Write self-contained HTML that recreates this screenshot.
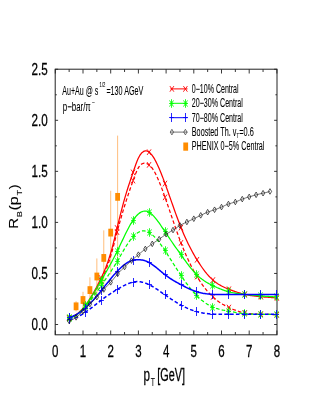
<!DOCTYPE html><html><head><meta charset="utf-8"><style>html,body{margin:0;padding:0;background:#fff}svg{will-change:transform}</style></head><body><svg width="332" height="415" viewBox="0 0 332 415" style="display:block;font-family:'Liberation Sans',sans-serif">
<rect width="332" height="415" fill="#fff"/>
<rect x="55.2" y="69.2" width="221.8" height="265.6" fill="none" stroke="#222" stroke-width="1"/>
<path d="M55.30 334.8v-4.3M55.30 69.2v4.3M69.15 334.8v-2.8M69.15 69.2v2.8M83.00 334.8v-4.3M83.00 69.2v4.3M96.85 334.8v-2.8M96.85 69.2v2.8M110.70 334.8v-4.3M110.70 69.2v4.3M124.55 334.8v-2.8M124.55 69.2v2.8M138.40 334.8v-4.3M138.40 69.2v4.3M152.25 334.8v-2.8M152.25 69.2v2.8M166.10 334.8v-4.3M166.10 69.2v4.3M179.95 334.8v-2.8M179.95 69.2v2.8M193.80 334.8v-4.3M193.80 69.2v4.3M207.65 334.8v-2.8M207.65 69.2v2.8M221.50 334.8v-4.3M221.50 69.2v4.3M235.35 334.8v-2.8M235.35 69.2v2.8M249.20 334.8v-4.3M249.20 69.2v4.3M263.05 334.8v-2.8M263.05 69.2v2.8M276.90 334.8v-4.3M276.90 69.2v4.3M55.2 324.50h2.9M277.0 324.50h-2.9M55.2 298.98h1.6M277.0 298.98h-1.6M55.2 273.45h2.9M277.0 273.45h-2.9M55.2 247.93h1.6M277.0 247.93h-1.6M55.2 222.40h2.9M277.0 222.40h-2.9M55.2 196.88h1.6M277.0 196.88h-1.6M55.2 171.35h2.9M277.0 171.35h-2.9M55.2 145.83h1.6M277.0 145.83h-1.6M55.2 120.30h2.9M277.0 120.30h-2.9M55.2 94.78h1.6M277.0 94.78h-1.6M55.2 69.25h2.9M277.0 69.25h-2.9" stroke="#222" stroke-width="0.9" fill="none"/>
<line x1="76.07" y1="301.22" x2="76.07" y2="311.43" stroke="#ffad5c" stroke-width="0.8"/>
<line x1="83.00" y1="291.83" x2="83.00" y2="308.16" stroke="#ffad5c" stroke-width="0.8"/>
<line x1="89.92" y1="277.33" x2="89.92" y2="302.85" stroke="#ffad5c" stroke-width="0.8"/>
<line x1="96.85" y1="258.44" x2="96.85" y2="294.58" stroke="#ffad5c" stroke-width="0.8"/>
<line x1="103.78" y1="230.36" x2="103.78" y2="285.50" stroke="#ffad5c" stroke-width="0.8"/>
<line x1="110.70" y1="190.75" x2="110.70" y2="274.47" stroke="#ffad5c" stroke-width="0.8"/>
<line x1="117.62" y1="135.62" x2="117.62" y2="258.13" stroke="#ffad5c" stroke-width="0.8"/>
<rect x="73.67" y="302.43" width="4.8" height="7.8" fill="#ff8c00"/>
<rect x="80.60" y="296.10" width="4.8" height="7.8" fill="#ff8c00"/>
<rect x="87.52" y="286.19" width="4.8" height="7.8" fill="#ff8c00"/>
<rect x="94.45" y="272.61" width="4.8" height="7.8" fill="#ff8c00"/>
<rect x="101.38" y="254.03" width="4.8" height="7.8" fill="#ff8c00"/>
<rect x="108.30" y="228.71" width="4.8" height="7.8" fill="#ff8c00"/>
<rect x="115.22" y="192.97" width="4.8" height="7.8" fill="#ff8c00"/>
<path d="M69.15 317.66L70.19 317.45L71.24 317.15L72.28 316.76L73.33 316.29L74.37 315.74L75.41 315.11L76.46 314.40L77.50 313.61L78.55 312.75L79.59 311.81L80.63 310.79L81.68 309.70L82.72 308.55L83.77 307.32L84.81 306.03L85.85 304.66L86.90 303.24L87.94 301.75L88.99 300.19L90.03 298.58L91.07 296.91L92.12 295.18L93.16 293.39L94.21 291.54L95.25 289.65L96.29 287.70L97.34 285.69L98.38 283.64L99.43 281.54L100.47 279.40L101.51 277.20L102.56 274.96L103.60 272.64L104.64 270.21L105.69 267.67L106.73 264.98L107.78 262.12L108.82 259.07L109.86 255.81L110.91 252.31L111.95 248.57L113.00 244.62L114.04 240.52L115.08 236.31L116.13 232.02L117.17 227.71L118.22 223.41L119.26 219.15L120.30 214.95L121.35 210.83L122.39 206.82L123.44 202.92L124.48 199.16L125.52 195.56L126.57 192.11L127.61 188.77L128.66 185.54L129.70 182.38L130.74 179.26L131.79 176.18L132.83 173.11L133.88 170.02L134.92 166.97L135.96 164.04L137.01 161.30L138.05 158.83L139.10 156.70L140.14 154.93L141.18 153.51L142.23 152.42L143.27 151.63L144.32 151.14L145.36 150.93L146.40 150.97L147.45 151.27L148.49 151.80L149.54 152.56L150.58 153.54L151.62 154.73L152.67 156.11L153.71 157.69L154.76 159.44L155.80 161.36L156.84 163.44L157.89 165.65L158.93 167.99L159.98 170.45L161.02 173.00L162.06 175.65L163.11 178.38L164.15 181.17L165.20 184.01L166.24 186.89L167.28 189.80L168.33 192.74L169.37 195.69L170.42 198.65L171.46 201.61L172.50 204.57L173.55 207.52L174.59 210.44L175.63 213.34L176.68 216.20L177.72 219.02L178.77 221.79L179.81 224.49L180.85 227.14L181.90 229.71L182.94 232.21L183.99 234.63L185.03 236.99L186.07 239.28L187.12 241.51L188.16 243.68L189.21 245.78L190.25 247.83L191.29 249.82L192.34 251.76L193.38 253.64L194.43 255.47L195.47 257.26L196.51 259.00L197.56 260.69L198.60 262.34L199.65 263.95L200.69 265.51L201.73 267.02L202.78 268.49L203.82 269.91L204.87 271.27L205.91 272.59L206.95 273.86L208.00 275.07L209.04 276.23L210.09 277.33L211.13 278.38L212.17 279.37L213.22 280.30L214.26 281.18L215.31 282.00L216.35 282.77L217.39 283.50L218.44 284.18L219.48 284.81L220.53 285.41L221.57 285.98L222.61 286.51L223.66 287.02L224.70 287.50L225.75 287.96L226.79 288.40L227.83 288.83L228.88 289.25L229.92 289.65L230.97 290.05L232.01 290.44L233.05 290.82L234.10 291.20L235.14 291.56L236.19 291.91L237.23 292.25L238.27 292.58L239.32 292.89L240.36 293.20L241.41 293.49L242.45 293.77L243.49 294.04L244.54 294.29L245.58 294.53L246.62 294.75L247.67 294.96L248.71 295.16L249.76 295.34L250.80 295.52L251.84 295.68L252.89 295.83L253.93 295.97L254.98 296.11L256.02 296.23L257.06 296.35L258.11 296.46L259.15 296.57L260.20 296.66L261.24 296.76L262.28 296.85L263.33 296.93L264.37 297.01L265.42 297.09L266.46 297.17L267.50 297.24L268.55 297.31L269.59 297.39L270.64 297.46L271.68 297.54L272.72 297.62L273.77 297.69L274.81 297.78L275.86 297.86L276.90 297.95" stroke="#ff0000" stroke-width="1.25" fill="none" stroke-linejoin="round"/>
<path d="M67.15 314.86L71.15 320.46M67.15 320.46L71.15 314.86" stroke="#ff0000" stroke-width="0.9" fill="none"/>
<path d="M83.13 302.81L87.13 308.41M83.13 308.41L87.13 302.81" stroke="#ff0000" stroke-width="0.9" fill="none"/>
<path d="M99.11 275.25L103.11 280.85M99.11 280.85L103.11 275.25" stroke="#ff0000" stroke-width="0.9" fill="none"/>
<path d="M115.09 225.24L119.09 230.84M115.09 230.84L119.09 225.24" stroke="#ff0000" stroke-width="0.9" fill="none"/>
<path d="M131.07 169.60L135.07 175.20M131.07 175.20L135.07 169.60" stroke="#ff0000" stroke-width="0.9" fill="none"/>
<path d="M147.05 149.38L151.05 154.98M147.05 154.98L151.05 149.38" stroke="#ff0000" stroke-width="0.9" fill="none"/>
<path d="M163.03 180.77L167.03 186.37M163.03 186.37L167.03 180.77" stroke="#ff0000" stroke-width="0.9" fill="none"/>
<path d="M179.02 224.74L183.02 230.34M179.02 230.34L183.02 224.74" stroke="#ff0000" stroke-width="0.9" fill="none"/>
<path d="M195.00 256.99L199.00 262.59M195.00 262.59L199.00 256.99" stroke="#ff0000" stroke-width="0.9" fill="none"/>
<path d="M210.98 277.29L214.98 282.89M210.98 282.89L214.98 277.29" stroke="#ff0000" stroke-width="0.9" fill="none"/>
<path d="M226.96 286.48L230.96 292.08M226.96 292.08L230.96 286.48" stroke="#ff0000" stroke-width="0.9" fill="none"/>
<path d="M242.94 291.58L246.94 297.18M242.94 297.18L246.94 291.58" stroke="#ff0000" stroke-width="0.9" fill="none"/>
<path d="M258.92 293.93L262.92 299.53M258.92 299.53L262.92 293.93" stroke="#ff0000" stroke-width="0.9" fill="none"/>
<path d="M274.90 295.15L278.90 300.75M274.90 300.75L278.90 295.15" stroke="#ff0000" stroke-width="0.9" fill="none"/>
<path d="M69.15 318.17L70.19 317.90L71.24 317.56L72.28 317.15L73.33 316.67L74.37 316.13L75.41 315.51L76.46 314.83L77.50 314.08L78.55 313.26L79.59 312.38L80.63 311.44L81.68 310.43L82.72 309.35L83.77 308.22L84.81 307.02L85.85 305.75L86.90 304.43L87.94 303.05L88.99 301.60L90.03 300.10L91.07 298.54L92.12 296.91L93.16 295.23L94.21 293.50L95.25 291.70L96.29 289.85L97.34 287.95L98.38 285.99L99.43 283.97L100.47 281.91L101.51 279.78L102.56 277.60L103.60 275.33L104.64 272.96L105.69 270.47L106.73 267.83L107.78 265.02L108.82 262.03L109.86 258.82L110.91 255.39L111.95 251.72L113.00 247.87L114.04 243.90L115.08 239.87L116.13 235.82L117.17 231.82L118.22 227.91L119.26 224.09L120.30 220.37L121.35 216.73L122.39 213.17L123.44 209.69L124.48 206.29L125.52 202.95L126.57 199.68L127.61 196.47L128.66 193.33L129.70 190.23L130.74 187.19L131.79 184.19L132.83 181.24L133.88 178.33L134.92 175.52L135.96 172.88L137.01 170.48L138.05 168.39L139.10 166.69L140.14 165.37L141.18 164.40L142.23 163.74L143.27 163.35L144.32 163.19L145.36 163.23L146.40 163.45L147.45 163.87L148.49 164.48L149.54 165.28L150.58 166.28L151.62 167.47L152.67 168.86L153.71 170.45L154.76 172.24L155.80 174.22L156.84 176.36L157.89 178.66L158.93 181.10L159.98 183.66L161.02 186.33L162.06 189.10L163.11 191.94L164.15 194.85L165.20 197.81L166.24 200.80L167.28 203.82L168.33 206.86L169.37 209.91L170.42 212.98L171.46 216.04L172.50 219.09L173.55 222.13L174.59 225.15L175.63 228.14L176.68 231.10L177.72 234.01L178.77 236.88L179.81 239.69L180.85 242.44L181.90 245.12L182.94 247.72L183.99 250.26L185.03 252.74L186.07 255.14L187.12 257.48L188.16 259.76L189.21 261.97L190.25 264.12L191.29 266.20L192.34 268.22L193.38 270.19L194.43 272.09L195.47 273.94L196.51 275.72L197.56 277.46L198.60 279.13L199.65 280.75L200.69 282.32L201.73 283.83L202.78 285.29L203.82 286.70L204.87 288.06L205.91 289.36L206.95 290.62L208.00 291.83L209.04 292.99L210.09 294.10L211.13 295.17L212.17 296.19L213.22 297.16L214.26 298.09L215.31 298.98L216.35 299.83L217.39 300.64L218.44 301.41L219.48 302.15L220.53 302.86L221.57 303.53L222.61 304.18L223.66 304.79L224.70 305.38L225.75 305.95L226.79 306.49L227.83 307.01L228.88 307.52L229.92 308.00L230.97 308.47L232.01 308.92L233.05 309.36L234.10 309.77L235.14 310.17L236.19 310.55L237.23 310.91L238.27 311.25L239.32 311.57L240.36 311.88L241.41 312.16L242.45 312.42L243.49 312.66L244.54 312.88L245.58 313.08L246.62 313.26L247.67 313.43L248.71 313.57L249.76 313.69L250.80 313.80L251.84 313.90L252.89 313.98L253.93 314.05L254.98 314.11L256.02 314.16L257.06 314.20L258.11 314.23L259.15 314.26L260.20 314.28L261.24 314.29L262.28 314.31L263.33 314.32L264.37 314.33L265.42 314.34L266.46 314.35L267.50 314.36L268.55 314.38L269.59 314.41L270.64 314.44L271.68 314.47L272.72 314.52L273.77 314.57L274.81 314.63L275.86 314.71L276.90 314.80" stroke="#ff0000" stroke-width="1.25" fill="none" stroke-dasharray="3.6 2.2" stroke-linejoin="round"/>
<path d="M67.15 315.37L71.15 320.97M67.15 320.97L71.15 315.37" stroke="#ff0000" stroke-width="0.9" fill="none"/>
<path d="M83.13 303.84L87.13 309.44M83.13 309.44L87.13 303.84" stroke="#ff0000" stroke-width="0.9" fill="none"/>
<path d="M99.11 277.81L103.11 283.41M99.11 283.41L103.11 277.81" stroke="#ff0000" stroke-width="0.9" fill="none"/>
<path d="M115.09 229.32L119.09 234.92M115.09 234.92L119.09 229.32" stroke="#ff0000" stroke-width="0.9" fill="none"/>
<path d="M131.07 177.76L135.07 183.36M131.07 183.36L135.07 177.76" stroke="#ff0000" stroke-width="0.9" fill="none"/>
<path d="M147.05 162.09L151.05 167.69M147.05 167.69L151.05 162.09" stroke="#ff0000" stroke-width="0.9" fill="none"/>
<path d="M163.03 194.55L167.03 200.15M163.03 200.15L167.03 194.55" stroke="#ff0000" stroke-width="0.9" fill="none"/>
<path d="M179.02 240.05L183.02 245.65M179.02 245.65L183.02 240.05" stroke="#ff0000" stroke-width="0.9" fill="none"/>
<path d="M195.00 273.73L199.00 279.33M195.00 279.33L199.00 273.73" stroke="#ff0000" stroke-width="0.9" fill="none"/>
<path d="M210.98 294.14L214.98 299.74M210.98 299.74L214.98 294.14" stroke="#ff0000" stroke-width="0.9" fill="none"/>
<path d="M226.96 304.75L230.96 310.35M226.96 310.35L230.96 304.75" stroke="#ff0000" stroke-width="0.9" fill="none"/>
<path d="M242.94 310.16L246.94 315.76M242.94 315.76L246.94 310.16" stroke="#ff0000" stroke-width="0.9" fill="none"/>
<path d="M258.92 311.49L262.92 317.09M258.92 317.09L262.92 311.49" stroke="#ff0000" stroke-width="0.9" fill="none"/>
<path d="M274.90 312.00L278.90 317.60M274.90 317.60L278.90 312.00" stroke="#ff0000" stroke-width="0.9" fill="none"/>
<path d="M69.15 317.66L70.19 317.58L71.24 317.39L72.28 317.09L73.33 316.68L74.37 316.17L75.41 315.57L76.46 314.87L77.50 314.07L78.55 313.20L79.59 312.24L80.63 311.20L81.68 310.09L82.72 308.90L83.77 307.65L84.81 306.34L85.85 304.96L86.90 303.54L87.94 302.06L88.99 300.53L90.03 298.96L91.07 297.35L92.12 295.70L93.16 294.02L94.21 292.32L95.25 290.59L96.29 288.84L97.34 287.07L98.38 285.29L99.43 283.50L100.47 281.71L101.51 279.91L102.56 278.12L103.60 276.32L104.64 274.52L105.69 272.71L106.73 270.89L107.78 269.05L108.82 267.20L109.86 265.32L110.91 263.42L111.95 261.49L113.00 259.54L114.04 257.55L115.08 255.52L116.13 253.45L117.17 251.35L118.22 249.20L119.26 247.02L120.30 244.81L121.35 242.59L122.39 240.38L123.44 238.17L124.48 235.99L125.52 233.83L126.57 231.72L127.61 229.67L128.66 227.67L129.70 225.76L130.74 223.93L131.79 222.20L132.83 220.58L133.88 219.07L134.92 217.68L135.96 216.41L137.01 215.27L138.05 214.26L139.10 213.38L140.14 212.63L141.18 212.03L142.23 211.56L143.27 211.25L144.32 211.08L145.36 211.06L146.40 211.20L147.45 211.50L148.49 211.95L149.54 212.54L150.58 213.27L151.62 214.12L152.67 215.08L153.71 216.15L154.76 217.32L155.80 218.56L156.84 219.89L157.89 221.28L158.93 222.72L159.98 224.21L161.02 225.74L162.06 227.29L163.11 228.86L164.15 230.44L165.20 232.02L166.24 233.58L167.28 235.13L168.33 236.68L169.37 238.21L170.42 239.74L171.46 241.26L172.50 242.77L173.55 244.28L174.59 245.77L175.63 247.27L176.68 248.75L177.72 250.23L178.77 251.71L179.81 253.19L180.85 254.66L181.90 256.13L182.94 257.59L183.99 259.05L185.03 260.49L186.07 261.92L187.12 263.32L188.16 264.71L189.21 266.07L190.25 267.39L191.29 268.69L192.34 269.94L193.38 271.16L194.43 272.33L195.47 273.45L196.51 274.52L197.56 275.53L198.60 276.49L199.65 277.40L200.69 278.25L201.73 279.07L202.78 279.83L203.82 280.56L204.87 281.25L205.91 281.91L206.95 282.54L208.00 283.14L209.04 283.71L210.09 284.26L211.13 284.80L212.17 285.32L213.22 285.82L214.26 286.32L215.31 286.80L216.35 287.27L217.39 287.74L218.44 288.18L219.48 288.62L220.53 289.04L221.57 289.44L222.61 289.83L223.66 290.21L224.70 290.56L225.75 290.90L226.79 291.22L227.83 291.53L228.88 291.81L229.92 292.07L230.97 292.32L232.01 292.54L233.05 292.75L234.10 292.95L235.14 293.13L236.19 293.30L237.23 293.45L238.27 293.60L239.32 293.74L240.36 293.87L241.41 293.99L242.45 294.11L243.49 294.23L244.54 294.34L245.58 294.45L246.62 294.56L247.67 294.67L248.71 294.77L249.76 294.88L250.80 294.98L251.84 295.09L252.89 295.19L253.93 295.29L254.98 295.39L256.02 295.48L257.06 295.58L258.11 295.67L259.15 295.76L260.20 295.85L261.24 295.94L262.28 296.02L263.33 296.11L264.37 296.19L265.42 296.26L266.46 296.34L267.50 296.41L268.55 296.48L269.59 296.55L270.64 296.61L271.68 296.67L272.72 296.73L273.77 296.79L274.81 296.84L275.86 296.89L276.90 296.93" stroke="#00ff00" stroke-width="1.25" fill="none" stroke-linejoin="round"/>
<path d="M67.10 317.50L71.90 317.50M69.50 313.20L69.50 321.80M67.50 314.40L71.50 320.60M67.50 320.60L71.50 314.40" stroke="#00ff00" stroke-width="0.85" fill="none"/>
<path d="M83.10 305.50L87.90 305.50M85.50 301.20L85.50 309.80M83.50 302.40L87.50 308.60M83.50 308.60L87.50 302.40" stroke="#00ff00" stroke-width="0.85" fill="none"/>
<path d="M99.10 280.50L103.90 280.50M101.50 276.20L101.50 284.80M99.50 277.40L103.50 283.60M99.50 283.60L103.50 277.40" stroke="#00ff00" stroke-width="0.85" fill="none"/>
<path d="M115.10 251.50L119.90 251.50M117.50 247.20L117.50 255.80M115.50 248.40L119.50 254.60M115.50 254.60L119.50 248.40" stroke="#00ff00" stroke-width="0.85" fill="none"/>
<path d="M131.10 220.50L135.90 220.50M133.50 216.20L133.50 224.80M131.50 217.40L135.50 223.60M131.50 223.60L135.50 217.40" stroke="#00ff00" stroke-width="0.85" fill="none"/>
<path d="M147.10 212.50L151.90 212.50M149.50 208.20L149.50 216.80M147.50 209.40L151.50 215.60M147.50 215.60L151.50 209.40" stroke="#00ff00" stroke-width="0.85" fill="none"/>
<path d="M163.10 231.50L167.90 231.50M165.50 227.20L165.50 235.80M163.50 228.40L167.50 234.60M163.50 234.60L167.50 228.40" stroke="#00ff00" stroke-width="0.85" fill="none"/>
<path d="M179.10 254.50L183.90 254.50M181.50 250.20L181.50 258.80M179.50 251.40L183.50 257.60M179.50 257.60L183.50 251.40" stroke="#00ff00" stroke-width="0.85" fill="none"/>
<path d="M194.10 274.50L198.90 274.50M196.50 270.20L196.50 278.80M194.50 271.40L198.50 277.60M194.50 277.60L198.50 271.40" stroke="#00ff00" stroke-width="0.85" fill="none"/>
<path d="M210.10 285.50L214.90 285.50M212.50 281.20L212.50 289.80M210.50 282.40L214.50 288.60M210.50 288.60L214.50 282.40" stroke="#00ff00" stroke-width="0.85" fill="none"/>
<path d="M226.10 291.50L230.90 291.50M228.50 287.20L228.50 295.80M226.50 288.40L230.50 294.60M226.50 294.60L230.50 288.40" stroke="#00ff00" stroke-width="0.85" fill="none"/>
<path d="M242.10 294.50L246.90 294.50M244.50 290.20L244.50 298.80M242.50 291.40L246.50 297.60M242.50 297.60L246.50 291.40" stroke="#00ff00" stroke-width="0.85" fill="none"/>
<path d="M258.10 295.50L262.90 295.50M260.50 291.20L260.50 299.80M258.50 292.40L262.50 298.60M258.50 298.60L262.50 292.40" stroke="#00ff00" stroke-width="0.85" fill="none"/>
<path d="M274.10 296.50L278.90 296.50M276.50 292.20L276.50 300.80M274.50 293.40L278.50 299.60M274.50 299.60L278.50 293.40" stroke="#00ff00" stroke-width="0.85" fill="none"/>
<path d="M69.15 318.37L70.19 318.16L71.24 317.86L72.28 317.48L73.33 317.02L74.37 316.48L75.41 315.86L76.46 315.18L77.50 314.43L78.55 313.61L79.59 312.73L80.63 311.79L81.68 310.80L82.72 309.75L83.77 308.65L84.81 307.51L85.85 306.32L86.90 305.09L87.94 303.81L88.99 302.51L90.03 301.17L91.07 299.80L92.12 298.41L93.16 296.99L94.21 295.55L95.25 294.09L96.29 292.62L97.34 291.13L98.38 289.64L99.43 288.14L100.47 286.63L101.51 285.13L102.56 283.63L103.60 282.12L104.64 280.61L105.69 279.10L106.73 277.57L107.78 276.04L108.82 274.49L109.86 272.93L110.91 271.35L111.95 269.75L113.00 268.13L114.04 266.49L115.08 264.81L116.13 263.11L117.17 261.38L118.22 259.62L119.26 257.83L120.30 256.03L121.35 254.23L122.39 252.44L123.44 250.65L124.48 248.90L125.52 247.18L126.57 245.50L127.61 243.88L128.66 242.32L129.70 240.84L130.74 239.43L131.79 238.12L132.83 236.92L133.88 235.81L134.92 234.82L135.96 233.94L137.01 233.16L138.05 232.50L139.10 231.95L140.14 231.51L141.18 231.18L142.23 230.97L143.27 230.88L144.32 230.90L145.36 231.03L146.40 231.29L147.45 231.66L148.49 232.15L149.54 232.75L150.58 233.45L151.62 234.25L152.67 235.14L153.71 236.12L154.76 237.18L155.80 238.31L156.84 239.52L157.89 240.79L158.93 242.12L159.98 243.50L161.02 244.93L162.06 246.40L163.11 247.91L164.15 249.44L165.20 251.01L166.24 252.59L167.28 254.19L168.33 255.80L169.37 257.42L170.42 259.06L171.46 260.70L172.50 262.34L173.55 263.98L174.59 265.62L175.63 267.26L176.68 268.89L177.72 270.51L178.77 272.11L179.81 273.70L180.85 275.27L181.90 276.82L182.94 278.35L183.99 279.85L185.03 281.33L186.07 282.78L187.12 284.20L188.16 285.59L189.21 286.95L190.25 288.27L191.29 289.56L192.34 290.81L193.38 292.03L194.43 293.21L195.47 294.34L196.51 295.43L197.56 296.48L198.60 297.49L199.65 298.45L200.69 299.37L201.73 300.24L202.78 301.07L203.82 301.87L204.87 302.62L205.91 303.33L206.95 304.00L208.00 304.64L209.04 305.23L210.09 305.79L211.13 306.31L212.17 306.80L213.22 307.25L214.26 307.66L215.31 308.04L216.35 308.40L217.39 308.72L218.44 309.02L219.48 309.30L220.53 309.56L221.57 309.80L222.61 310.03L223.66 310.24L224.70 310.45L225.75 310.65L226.79 310.84L227.83 311.03L228.88 311.21L229.92 311.40L230.97 311.60L232.01 311.79L233.05 311.98L234.10 312.17L235.14 312.36L236.19 312.54L237.23 312.72L238.27 312.89L239.32 313.05L240.36 313.21L241.41 313.36L242.45 313.50L243.49 313.62L244.54 313.74L245.58 313.84L246.62 313.93L247.67 314.01L248.71 314.07L249.76 314.12L250.80 314.17L251.84 314.21L252.89 314.23L253.93 314.26L254.98 314.27L256.02 314.28L257.06 314.29L258.11 314.29L259.15 314.29L260.20 314.29L261.24 314.29L262.28 314.29L263.33 314.29L264.37 314.29L265.42 314.30L266.46 314.30L267.50 314.32L268.55 314.34L269.59 314.36L270.64 314.40L271.68 314.44L272.72 314.49L273.77 314.55L274.81 314.62L275.86 314.70L276.90 314.80" stroke="#00ff00" stroke-width="1.25" fill="none" stroke-dasharray="3.6 2.2" stroke-linejoin="round"/>
<path d="M67.10 318.50L71.90 318.50M69.50 314.20L69.50 322.80M67.50 315.40L71.50 321.60M67.50 321.60L71.50 315.40" stroke="#00ff00" stroke-width="0.85" fill="none"/>
<path d="M83.10 307.50L87.90 307.50M85.50 303.20L85.50 311.80M83.50 304.40L87.50 310.60M83.50 310.60L87.50 304.40" stroke="#00ff00" stroke-width="0.85" fill="none"/>
<path d="M99.10 285.50L103.90 285.50M101.50 281.20L101.50 289.80M99.50 282.40L103.50 288.60M99.50 288.60L103.50 282.40" stroke="#00ff00" stroke-width="0.85" fill="none"/>
<path d="M115.10 261.50L119.90 261.50M117.50 257.20L117.50 265.80M115.50 258.40L119.50 264.60M115.50 264.60L119.50 258.40" stroke="#00ff00" stroke-width="0.85" fill="none"/>
<path d="M131.10 236.50L135.90 236.50M133.50 232.20L133.50 240.80M131.50 233.40L135.50 239.60M131.50 239.60L135.50 233.40" stroke="#00ff00" stroke-width="0.85" fill="none"/>
<path d="M147.10 232.50L151.90 232.50M149.50 228.20L149.50 236.80M147.50 229.40L151.50 235.60M147.50 235.60L151.50 229.40" stroke="#00ff00" stroke-width="0.85" fill="none"/>
<path d="M163.10 250.50L167.90 250.50M165.50 246.20L165.50 254.80M163.50 247.40L167.50 253.60M163.50 253.60L167.50 247.40" stroke="#00ff00" stroke-width="0.85" fill="none"/>
<path d="M179.10 275.50L183.90 275.50M181.50 271.20L181.50 279.80M179.50 272.40L183.50 278.60M179.50 278.60L183.50 272.40" stroke="#00ff00" stroke-width="0.85" fill="none"/>
<path d="M194.10 295.50L198.90 295.50M196.50 291.20L196.50 299.80M194.50 292.40L198.50 298.60M194.50 298.60L198.50 292.40" stroke="#00ff00" stroke-width="0.85" fill="none"/>
<path d="M210.10 307.50L214.90 307.50M212.50 303.20L212.50 311.80M210.50 304.40L214.50 310.60M210.50 310.60L214.50 304.40" stroke="#00ff00" stroke-width="0.85" fill="none"/>
<path d="M226.10 311.50L230.90 311.50M228.50 307.20L228.50 315.80M226.50 308.40L230.50 314.60M226.50 314.60L230.50 308.40" stroke="#00ff00" stroke-width="0.85" fill="none"/>
<path d="M242.10 313.50L246.90 313.50M244.50 309.20L244.50 317.80M242.50 310.40L246.50 316.60M242.50 316.60L246.50 310.40" stroke="#00ff00" stroke-width="0.85" fill="none"/>
<path d="M258.10 314.50L262.90 314.50M260.50 310.20L260.50 318.80M258.50 311.40L262.50 317.60M258.50 317.60L262.50 311.40" stroke="#00ff00" stroke-width="0.85" fill="none"/>
<path d="M274.10 314.50L278.90 314.50M276.50 310.20L276.50 318.80M274.50 311.40L278.50 317.60M274.50 317.60L278.50 311.40" stroke="#00ff00" stroke-width="0.85" fill="none"/>
<path d="M69.15 317.35L70.19 317.10L71.24 316.79L72.28 316.43L73.33 316.02L74.37 315.55L75.41 315.04L76.46 314.48L77.50 313.88L78.55 313.22L79.59 312.53L80.63 311.79L81.68 311.01L82.72 310.20L83.77 309.34L84.81 308.45L85.85 307.52L86.90 306.56L87.94 305.56L88.99 304.54L90.03 303.48L91.07 302.40L92.12 301.29L93.16 300.16L94.21 299.00L95.25 297.81L96.29 296.61L97.34 295.38L98.38 294.14L99.43 292.88L100.47 291.60L101.51 290.31L102.56 289.01L103.60 287.70L104.64 286.38L105.69 285.06L106.73 283.74L107.78 282.43L108.82 281.12L109.86 279.82L110.91 278.54L111.95 277.28L113.00 276.03L114.04 274.81L115.08 273.62L116.13 272.46L117.17 271.33L118.22 270.24L119.26 269.19L120.30 268.18L121.35 267.22L122.39 266.30L123.44 265.43L124.48 264.62L125.52 263.85L126.57 263.15L127.61 262.50L128.66 261.92L129.70 261.40L130.74 260.94L131.79 260.56L132.83 260.24L133.88 260.00L134.92 259.83L135.96 259.72L137.01 259.66L138.05 259.66L139.10 259.70L140.14 259.78L141.18 259.91L142.23 260.08L143.27 260.31L144.32 260.58L145.36 260.91L146.40 261.29L147.45 261.73L148.49 262.23L149.54 262.78L150.58 263.40L151.62 264.07L152.67 264.79L153.71 265.54L154.76 266.34L155.80 267.16L156.84 268.00L157.89 268.87L158.93 269.74L159.98 270.62L161.02 271.50L162.06 272.37L163.11 273.23L164.15 274.07L165.20 274.89L166.24 275.68L167.28 276.44L168.33 277.18L169.37 277.89L170.42 278.58L171.46 279.25L172.50 279.90L173.55 280.53L174.59 281.14L175.63 281.75L176.68 282.34L177.72 282.91L178.77 283.48L179.81 284.05L180.85 284.60L181.90 285.15L182.94 285.70L183.99 286.24L185.03 286.77L186.07 287.30L187.12 287.81L188.16 288.31L189.21 288.79L190.25 289.26L191.29 289.72L192.34 290.15L193.38 290.57L194.43 290.96L195.47 291.33L196.51 291.68L197.56 292.00L198.60 292.30L199.65 292.57L200.69 292.82L201.73 293.04L202.78 293.25L203.82 293.43L204.87 293.60L205.91 293.75L206.95 293.88L208.00 294.00L209.04 294.10L210.09 294.19L211.13 294.27L212.17 294.34L213.22 294.39L214.26 294.44L215.31 294.48L216.35 294.52L217.39 294.54L218.44 294.57L219.48 294.58L220.53 294.59L221.57 294.60L222.61 294.60L223.66 294.60L224.70 294.60L225.75 294.60L226.79 294.59L227.83 294.59L228.88 294.58L229.92 294.58L230.97 294.58L232.01 294.58L233.05 294.57L234.10 294.57L235.14 294.57L236.19 294.57L237.23 294.57L238.27 294.58L239.32 294.58L240.36 294.58L241.41 294.58L242.45 294.58L243.49 294.58L244.54 294.58L245.58 294.59L246.62 294.59L247.67 294.59L248.71 294.59L249.76 294.59L250.80 294.59L251.84 294.59L252.89 294.59L253.93 294.59L254.98 294.59L256.02 294.59L257.06 294.59L258.11 294.59L259.15 294.59L260.20 294.59L261.24 294.58L262.28 294.58L263.33 294.58L264.37 294.58L265.42 294.58L266.46 294.58L267.50 294.58L268.55 294.58L269.59 294.58L270.64 294.58L271.68 294.58L272.72 294.58L273.77 294.58L274.81 294.58L275.86 294.58L276.90 294.58" stroke="#0000ff" stroke-width="1.5" fill="none" stroke-linejoin="round"/>
<path d="M67.10 317.50L71.90 317.50M69.50 313.00L69.50 322.00" stroke="#0000ff" stroke-width="0.85" fill="none"/>
<path d="M83.10 308.50L87.90 308.50M85.50 304.00L85.50 313.00" stroke="#0000ff" stroke-width="0.85" fill="none"/>
<path d="M99.10 290.50L103.90 290.50M101.50 286.00L101.50 295.00" stroke="#0000ff" stroke-width="0.85" fill="none"/>
<path d="M115.10 271.50L119.90 271.50M117.50 267.00L117.50 276.00" stroke="#0000ff" stroke-width="0.85" fill="none"/>
<path d="M131.10 260.50L135.90 260.50M133.50 256.00L133.50 265.00" stroke="#0000ff" stroke-width="0.85" fill="none"/>
<path d="M147.10 262.50L151.90 262.50M149.50 258.00L149.50 267.00" stroke="#0000ff" stroke-width="0.85" fill="none"/>
<path d="M163.10 274.50L167.90 274.50M165.50 270.00L165.50 279.00" stroke="#0000ff" stroke-width="0.85" fill="none"/>
<path d="M179.10 284.50L183.90 284.50M181.50 280.00L181.50 289.00" stroke="#0000ff" stroke-width="0.85" fill="none"/>
<path d="M194.10 291.50L198.90 291.50M196.50 287.00L196.50 296.00" stroke="#0000ff" stroke-width="0.85" fill="none"/>
<path d="M210.10 294.50L214.90 294.50M212.50 290.00L212.50 299.00" stroke="#0000ff" stroke-width="0.85" fill="none"/>
<path d="M226.10 294.50L230.90 294.50M228.50 290.00L228.50 299.00" stroke="#0000ff" stroke-width="0.85" fill="none"/>
<path d="M242.10 294.50L246.90 294.50M244.50 290.00L244.50 299.00" stroke="#0000ff" stroke-width="0.85" fill="none"/>
<path d="M258.10 294.50L262.90 294.50M260.50 290.00L260.50 299.00" stroke="#0000ff" stroke-width="0.85" fill="none"/>
<path d="M274.10 294.50L278.90 294.50M276.50 290.00L276.50 299.00" stroke="#0000ff" stroke-width="0.85" fill="none"/>
<path d="M69.15 319.39L70.19 319.26L71.24 319.07L72.28 318.83L73.33 318.53L74.37 318.19L75.41 317.81L76.46 317.38L77.50 316.91L78.55 316.40L79.59 315.86L80.63 315.28L81.68 314.67L82.72 314.03L83.77 313.36L84.81 312.67L85.85 311.96L86.90 311.22L87.94 310.47L88.99 309.70L90.03 308.91L91.07 308.12L92.12 307.31L93.16 306.50L94.21 305.68L95.25 304.86L96.29 304.04L97.34 303.22L98.38 302.40L99.43 301.59L100.47 300.79L101.51 300.00L102.56 299.23L103.60 298.46L104.64 297.70L105.69 296.96L106.73 296.23L107.78 295.50L108.82 294.79L109.86 294.09L110.91 293.40L111.95 292.72L113.00 292.04L114.04 291.38L115.08 290.72L116.13 290.07L117.17 289.43L118.22 288.80L119.26 288.18L120.30 287.58L121.35 286.98L122.39 286.41L123.44 285.85L124.48 285.32L125.52 284.82L126.57 284.34L127.61 283.89L128.66 283.47L129.70 283.09L130.74 282.75L131.79 282.45L132.83 282.18L133.88 281.97L134.92 281.80L135.96 281.68L137.01 281.62L138.05 281.61L139.10 281.66L140.14 281.77L141.18 281.93L142.23 282.15L143.27 282.41L144.32 282.73L145.36 283.09L146.40 283.49L147.45 283.93L148.49 284.41L149.54 284.92L150.58 285.46L151.62 286.03L152.67 286.62L153.71 287.24L154.76 287.89L155.80 288.55L156.84 289.23L157.89 289.92L158.93 290.63L159.98 291.35L161.02 292.07L162.06 292.80L163.11 293.53L164.15 294.26L165.20 294.99L166.24 295.72L167.28 296.44L168.33 297.16L169.37 297.87L170.42 298.58L171.46 299.27L172.50 299.96L173.55 300.63L174.59 301.30L175.63 301.95L176.68 302.59L177.72 303.22L178.77 303.84L179.81 304.44L180.85 305.02L181.90 305.59L182.94 306.14L183.99 306.67L185.03 307.18L186.07 307.68L187.12 308.16L188.16 308.62L189.21 309.06L190.25 309.49L191.29 309.89L192.34 310.27L193.38 310.64L194.43 310.98L195.47 311.30L196.51 311.61L197.56 311.89L198.60 312.15L199.65 312.39L200.69 312.62L201.73 312.82L202.78 313.01L203.82 313.18L204.87 313.33L205.91 313.47L206.95 313.60L208.00 313.71L209.04 313.81L210.09 313.90L211.13 313.97L212.17 314.04L213.22 314.10L214.26 314.15L215.31 314.19L216.35 314.22L217.39 314.25L218.44 314.27L219.48 314.29L220.53 314.30L221.57 314.31L222.61 314.31L223.66 314.31L224.70 314.31L225.75 314.30L226.79 314.30L227.83 314.29L228.88 314.29L229.92 314.29L230.97 314.28L232.01 314.28L233.05 314.28L234.10 314.28L235.14 314.28L236.19 314.28L237.23 314.28L238.27 314.28L239.32 314.28L240.36 314.28L241.41 314.29L242.45 314.29L243.49 314.29L244.54 314.29L245.58 314.29L246.62 314.29L247.67 314.29L248.71 314.29L249.76 314.29L250.80 314.29L251.84 314.29L252.89 314.29L253.93 314.29L254.98 314.29L256.02 314.29L257.06 314.29L258.11 314.29L259.15 314.29L260.20 314.29L261.24 314.29L262.28 314.29L263.33 314.29L264.37 314.29L265.42 314.29L266.46 314.29L267.50 314.29L268.55 314.29L269.59 314.29L270.64 314.29L271.68 314.29L272.72 314.29L273.77 314.29L274.81 314.29L275.86 314.29L276.90 314.29" stroke="#0000ff" stroke-width="1.5" fill="none" stroke-dasharray="3.6 2.2" stroke-linejoin="round"/>
<path d="M67.10 319.50L71.90 319.50M69.50 315.00L69.50 324.00" stroke="#0000ff" stroke-width="0.85" fill="none"/>
<path d="M83.10 312.50L87.90 312.50M85.50 308.00L85.50 317.00" stroke="#0000ff" stroke-width="0.85" fill="none"/>
<path d="M99.10 300.50L103.90 300.50M101.50 296.00L101.50 305.00" stroke="#0000ff" stroke-width="0.85" fill="none"/>
<path d="M115.10 289.50L119.90 289.50M117.50 285.00L117.50 294.00" stroke="#0000ff" stroke-width="0.85" fill="none"/>
<path d="M131.10 282.50L135.90 282.50M133.50 278.00L133.50 287.00" stroke="#0000ff" stroke-width="0.85" fill="none"/>
<path d="M147.10 284.50L151.90 284.50M149.50 280.00L149.50 289.00" stroke="#0000ff" stroke-width="0.85" fill="none"/>
<path d="M163.10 294.50L167.90 294.50M165.50 290.00L165.50 299.00" stroke="#0000ff" stroke-width="0.85" fill="none"/>
<path d="M179.10 305.50L183.90 305.50M181.50 301.00L181.50 310.00" stroke="#0000ff" stroke-width="0.85" fill="none"/>
<path d="M194.10 311.50L198.90 311.50M196.50 307.00L196.50 316.00" stroke="#0000ff" stroke-width="0.85" fill="none"/>
<path d="M210.10 314.50L214.90 314.50M212.50 310.00L212.50 319.00" stroke="#0000ff" stroke-width="0.85" fill="none"/>
<path d="M226.10 314.50L230.90 314.50M228.50 310.00L228.50 319.00" stroke="#0000ff" stroke-width="0.85" fill="none"/>
<path d="M242.10 314.50L246.90 314.50M244.50 310.00L244.50 319.00" stroke="#0000ff" stroke-width="0.85" fill="none"/>
<path d="M258.10 314.50L262.90 314.50M260.50 310.00L260.50 319.00" stroke="#0000ff" stroke-width="0.85" fill="none"/>
<path d="M274.10 314.50L278.90 314.50M276.50 310.00L276.50 319.00" stroke="#0000ff" stroke-width="0.85" fill="none"/>
<path d="M69.15 320.93L71.18 320.23L73.21 319.22L75.24 317.95L77.26 316.44L79.29 314.74L81.32 312.87L83.35 310.88L85.38 308.79L87.41 306.67L89.44 304.58L91.46 302.55L93.49 300.55L95.52 298.52L97.55 296.38L99.58 294.13L101.61 291.84L103.64 289.63L105.66 287.55L107.69 285.52L109.72 283.41L111.75 281.11L113.78 278.63L115.81 276.12L117.83 273.72L119.86 271.54L121.89 269.53L123.92 267.61L125.95 265.70L127.98 263.79L130.01 261.91L132.03 260.09L134.06 258.32L136.09 256.60L138.12 254.90L140.15 253.19L142.18 251.50L144.21 249.84L146.23 248.23L148.26 246.69L150.29 245.21L152.32 243.79L154.35 242.42L156.38 241.06L158.41 239.68L160.43 238.24L162.46 236.77L164.49 235.33L166.52 233.97L168.55 232.74L170.58 231.55L172.61 230.32L174.63 228.99L176.66 227.61L178.69 226.25L180.72 225.01L182.75 223.94L184.78 222.96L186.81 222.02L188.83 221.08L190.86 220.13L192.89 219.16L194.92 218.18L196.95 217.20L198.98 216.21L201.00 215.22L203.03 214.24L205.06 213.30L207.09 212.42L209.12 211.62L211.15 210.90L213.18 210.21L215.20 209.52L217.23 208.80L219.26 208.03L221.29 207.18L223.32 206.25L225.35 205.30L227.38 204.42L229.40 203.70L231.43 203.11L233.46 202.56L235.49 201.93L237.52 201.15L239.55 200.27L241.58 199.40L243.60 198.63L245.63 197.95L247.66 197.33L249.69 196.73L251.72 196.11L253.75 195.50L255.78 194.93L257.80 194.40L259.83 193.92L261.86 193.46L263.89 193.01L265.92 192.54L267.95 192.03L269.97 191.46" stroke="#333" stroke-width="0.7" fill="none"/>
<path d="M67.50 320.93L69.15 318.13L70.80 320.93L69.15 323.73Z" stroke="#111" stroke-width="0.7" fill="none"/>
<path d="M74.42 317.35L76.07 314.55L77.72 317.35L76.07 320.15Z" stroke="#111" stroke-width="0.7" fill="none"/>
<path d="M81.35 311.23L83.00 308.43L84.65 311.23L83.00 314.03Z" stroke="#111" stroke-width="0.7" fill="none"/>
<path d="M88.27 304.08L89.92 301.28L91.58 304.08L89.92 306.88Z" stroke="#111" stroke-width="0.7" fill="none"/>
<path d="M95.20 297.14L96.85 294.34L98.50 297.14L96.85 299.94Z" stroke="#111" stroke-width="0.7" fill="none"/>
<path d="M102.12 289.48L103.78 286.68L105.43 289.48L103.78 292.28Z" stroke="#111" stroke-width="0.7" fill="none"/>
<path d="M109.05 282.33L110.70 279.53L112.35 282.33L110.70 285.13Z" stroke="#111" stroke-width="0.7" fill="none"/>
<path d="M115.97 273.96L117.62 271.16L119.28 273.96L117.62 276.76Z" stroke="#111" stroke-width="0.7" fill="none"/>
<path d="M122.90 267.02L124.55 264.22L126.20 267.02L124.55 269.82Z" stroke="#111" stroke-width="0.7" fill="none"/>
<path d="M129.82 260.59L131.47 257.79L133.12 260.59L131.47 263.39Z" stroke="#111" stroke-width="0.7" fill="none"/>
<path d="M136.75 254.66L138.40 251.86L140.05 254.66L138.40 257.46Z" stroke="#111" stroke-width="0.7" fill="none"/>
<path d="M143.67 248.95L145.32 246.15L146.97 248.95L145.32 251.75Z" stroke="#111" stroke-width="0.7" fill="none"/>
<path d="M150.60 243.84L152.25 241.04L153.90 243.84L152.25 246.64Z" stroke="#111" stroke-width="0.7" fill="none"/>
<path d="M157.53 239.14L159.18 236.34L160.83 239.14L159.18 241.94Z" stroke="#111" stroke-width="0.7" fill="none"/>
<path d="M164.45 234.24L166.10 231.44L167.75 234.24L166.10 237.04Z" stroke="#111" stroke-width="0.7" fill="none"/>
<path d="M171.37 230.06L173.02 227.26L174.67 230.06L173.02 232.86Z" stroke="#111" stroke-width="0.7" fill="none"/>
<path d="M178.30 225.46L179.95 222.66L181.60 225.46L179.95 228.26Z" stroke="#111" stroke-width="0.7" fill="none"/>
<path d="M185.22 221.99L186.88 219.19L188.53 221.99L186.88 224.79Z" stroke="#111" stroke-width="0.7" fill="none"/>
<path d="M192.15 218.72L193.80 215.92L195.45 218.72L193.80 221.52Z" stroke="#111" stroke-width="0.7" fill="none"/>
<path d="M199.07 215.36L200.72 212.56L202.37 215.36L200.72 218.16Z" stroke="#111" stroke-width="0.7" fill="none"/>
<path d="M206.00 212.19L207.65 209.39L209.30 212.19L207.65 214.99Z" stroke="#111" stroke-width="0.7" fill="none"/>
<path d="M212.92 209.74L214.57 206.94L216.22 209.74L214.57 212.54Z" stroke="#111" stroke-width="0.7" fill="none"/>
<path d="M219.85 207.09L221.50 204.29L223.15 207.09L221.50 209.89Z" stroke="#111" stroke-width="0.7" fill="none"/>
<path d="M226.78 204.02L228.43 201.22L230.08 204.02L228.43 206.82Z" stroke="#111" stroke-width="0.7" fill="none"/>
<path d="M233.70 201.98L235.35 199.18L237.00 201.98L235.35 204.78Z" stroke="#111" stroke-width="0.7" fill="none"/>
<path d="M240.62 199.12L242.27 196.32L243.92 199.12L242.27 201.92Z" stroke="#111" stroke-width="0.7" fill="none"/>
<path d="M247.55 196.88L249.20 194.07L250.85 196.88L249.20 199.68Z" stroke="#111" stroke-width="0.7" fill="none"/>
<path d="M254.47 194.83L256.12 192.03L257.77 194.83L256.12 197.63Z" stroke="#111" stroke-width="0.7" fill="none"/>
<path d="M261.40 193.20L263.05 190.40L264.70 193.20L263.05 196.00Z" stroke="#111" stroke-width="0.7" fill="none"/>
<path d="M268.32 191.46L269.97 188.66L271.62 191.46L269.97 194.26Z" stroke="#111" stroke-width="0.7" fill="none"/>
<text x="55.30" y="356.6" font-size="16.8" textLength="6.4" lengthAdjust="spacingAndGlyphs" text-anchor="middle" fill="#000" stroke="#000" stroke-width="0.28">0</text>
<text x="83.00" y="356.6" font-size="16.8" textLength="6.4" lengthAdjust="spacingAndGlyphs" text-anchor="middle" fill="#000" stroke="#000" stroke-width="0.28">1</text>
<text x="110.70" y="356.6" font-size="16.8" textLength="6.4" lengthAdjust="spacingAndGlyphs" text-anchor="middle" fill="#000" stroke="#000" stroke-width="0.28">2</text>
<text x="138.40" y="356.6" font-size="16.8" textLength="6.4" lengthAdjust="spacingAndGlyphs" text-anchor="middle" fill="#000" stroke="#000" stroke-width="0.28">3</text>
<text x="166.10" y="356.6" font-size="16.8" textLength="6.4" lengthAdjust="spacingAndGlyphs" text-anchor="middle" fill="#000" stroke="#000" stroke-width="0.28">4</text>
<text x="193.80" y="356.6" font-size="16.8" textLength="6.4" lengthAdjust="spacingAndGlyphs" text-anchor="middle" fill="#000" stroke="#000" stroke-width="0.28">5</text>
<text x="221.50" y="356.6" font-size="16.8" textLength="6.4" lengthAdjust="spacingAndGlyphs" text-anchor="middle" fill="#000" stroke="#000" stroke-width="0.28">6</text>
<text x="249.20" y="356.6" font-size="16.8" textLength="6.4" lengthAdjust="spacingAndGlyphs" text-anchor="middle" fill="#000" stroke="#000" stroke-width="0.28">7</text>
<text x="276.90" y="356.6" font-size="16.8" textLength="6.4" lengthAdjust="spacingAndGlyphs" text-anchor="middle" fill="#000" stroke="#000" stroke-width="0.28">8</text>
<text x="47.8" y="330.30" font-size="16.8" textLength="16.2" lengthAdjust="spacingAndGlyphs" text-anchor="end" fill="#000" stroke="#000" stroke-width="0.28">0.0</text>
<text x="47.8" y="279.25" font-size="16.8" textLength="16.2" lengthAdjust="spacingAndGlyphs" text-anchor="end" fill="#000" stroke="#000" stroke-width="0.28">0.5</text>
<text x="47.8" y="228.20" font-size="16.8" textLength="16.2" lengthAdjust="spacingAndGlyphs" text-anchor="end" fill="#000" stroke="#000" stroke-width="0.28">1.0</text>
<text x="47.8" y="177.15" font-size="16.8" textLength="16.2" lengthAdjust="spacingAndGlyphs" text-anchor="end" fill="#000" stroke="#000" stroke-width="0.28">1.5</text>
<text x="47.8" y="126.10" font-size="16.8" textLength="16.2" lengthAdjust="spacingAndGlyphs" text-anchor="end" fill="#000" stroke="#000" stroke-width="0.28">2.0</text>
<text x="47.8" y="75.05" font-size="16.8" textLength="16.2" lengthAdjust="spacingAndGlyphs" text-anchor="end" fill="#000" stroke="#000" stroke-width="0.28">2.5</text>
<text x="143.6" y="381" font-size="17.6" textLength="6.5" lengthAdjust="spacingAndGlyphs" text-anchor="start" fill="#000" stroke="#000" stroke-width="0.28">p</text>
<text x="150.8" y="386.2" font-size="10.5" textLength="4.2" lengthAdjust="spacingAndGlyphs" text-anchor="start" fill="#000" stroke="#000" stroke-width="0.08">T</text>
<text x="157.2" y="381" font-size="17.6" textLength="27.8" lengthAdjust="spacingAndGlyphs" text-anchor="start" fill="#000" stroke="#000" stroke-width="0.28">[GeV]</text>
<g transform="translate(18.0,228.8) rotate(-90) scale(1.35,0.95)" stroke="#000" stroke-width="0.1"><text font-size="13" x="0" y="0" textLength="8" lengthAdjust="spacingAndGlyphs">R</text><text font-size="8.5" x="8.5" y="4" textLength="4.6" lengthAdjust="spacingAndGlyphs">B</text><text font-size="13" x="13.6" y="0" textLength="10.5" lengthAdjust="spacingAndGlyphs">(p</text><text font-size="8.5" x="24.6" y="4" textLength="4.2" lengthAdjust="spacingAndGlyphs">T</text><text font-size="13" x="29.3" y="0" textLength="3.6" lengthAdjust="spacingAndGlyphs">)</text></g>
<text x="62.3" y="95.4" font-size="12.3" textLength="36" lengthAdjust="spacingAndGlyphs" text-anchor="start" fill="#000" stroke="#000" stroke-width="0.08">Au+Au @ s</text>
<text x="99.6" y="87.0" font-size="6.5" textLength="5.8" lengthAdjust="spacingAndGlyphs" text-anchor="start" fill="#000" stroke="#000" stroke-width="0.08">1/2</text>
<text x="106.4" y="95.4" font-size="12.3" textLength="37" lengthAdjust="spacingAndGlyphs" text-anchor="start" fill="#000" stroke="#000" stroke-width="0.08">=130 AGeV</text>
<text x="62.8" y="110.6" font-size="12.3" textLength="28" lengthAdjust="spacingAndGlyphs" text-anchor="start" fill="#000" stroke="#000" stroke-width="0.08">p−bar/π</text>
<text x="91.8" y="105.2" font-size="7" textLength="3" lengthAdjust="spacingAndGlyphs" text-anchor="start" fill="#000" stroke="#000" stroke-width="0.08">−</text>
<line x1="170.3" y1="88.9" x2="187.5" y2="88.9" stroke="#ff0000" stroke-width="1.0"/>
<path d="M169.90 86.10L173.90 91.70M169.90 91.70L173.90 86.10" stroke="#ff0000" stroke-width="0.9" fill="none"/>
<path d="M183.40 86.10L187.40 91.70M183.40 91.70L187.40 86.10" stroke="#ff0000" stroke-width="0.9" fill="none"/>
<line x1="170.3" y1="103.3" x2="187.5" y2="103.3" stroke="#00ff00" stroke-width="1.0"/>
<path d="M169.10 103.50L173.90 103.50M171.50 99.20L171.50 107.80M169.50 100.40L173.50 106.60M169.50 106.60L173.50 100.40" stroke="#00ff00" stroke-width="0.85" fill="none"/>
<path d="M183.10 103.50L187.90 103.50M185.50 99.20L185.50 107.80M183.50 100.40L187.50 106.60M183.50 106.60L187.50 100.40" stroke="#00ff00" stroke-width="0.85" fill="none"/>
<line x1="170.3" y1="117.7" x2="187.5" y2="117.7" stroke="#0000ff" stroke-width="1.0"/>
<path d="M169.10 117.50L173.90 117.50M171.50 113.00L171.50 122.00" stroke="#0000ff" stroke-width="0.85" fill="none"/>
<path d="M183.10 117.50L187.90 117.50M185.50 113.00L185.50 122.00" stroke="#0000ff" stroke-width="0.85" fill="none"/>
<line x1="170.3" y1="132.1" x2="187.5" y2="132.1" stroke="#333" stroke-width="0.7"/>
<path d="M170.25 132.10L171.90 129.30L173.55 132.10L171.90 134.90Z" stroke="#333" stroke-width="0.7" fill="none"/>
<path d="M183.75 132.10L185.40 129.30L187.05 132.10L185.40 134.90Z" stroke="#333" stroke-width="0.7" fill="none"/>
<rect x="183.3" y="142.5" width="4.8" height="8.2" fill="#ff8c00"/>
<text x="191.8" y="92.7" font-size="12" textLength="46.8" lengthAdjust="spacingAndGlyphs" text-anchor="start" fill="#000" stroke="#000" stroke-width="0.08">0−10% Central</text>
<text x="191.8" y="107.1" font-size="12" textLength="51.1" lengthAdjust="spacingAndGlyphs" text-anchor="start" fill="#000" stroke="#000" stroke-width="0.08">20−30% Central</text>
<text x="191.8" y="121.5" font-size="12" textLength="51.1" lengthAdjust="spacingAndGlyphs" text-anchor="start" fill="#000" stroke="#000" stroke-width="0.08">70−80% Central</text>
<text x="191.8" y="150.4" font-size="12" textLength="72.6" lengthAdjust="spacingAndGlyphs" text-anchor="start" fill="#000" stroke="#000" stroke-width="0.08">PHENIX 0−5% Central</text>
<text x="191.8" y="135.9" font-size="12" textLength="44.5" lengthAdjust="spacingAndGlyphs" text-anchor="start" fill="#000" stroke="#000" stroke-width="0.08">Boosted Th. v</text>
<text x="236.5" y="138.4" font-size="6.5" textLength="2.6" lengthAdjust="spacingAndGlyphs" text-anchor="start" fill="#000" stroke="#000" stroke-width="0.08">T</text>
<text x="239.3" y="135.9" font-size="12" textLength="14.5" lengthAdjust="spacingAndGlyphs" text-anchor="start" fill="#000" stroke="#000" stroke-width="0.08">=0.6</text>
</svg></body></html>
